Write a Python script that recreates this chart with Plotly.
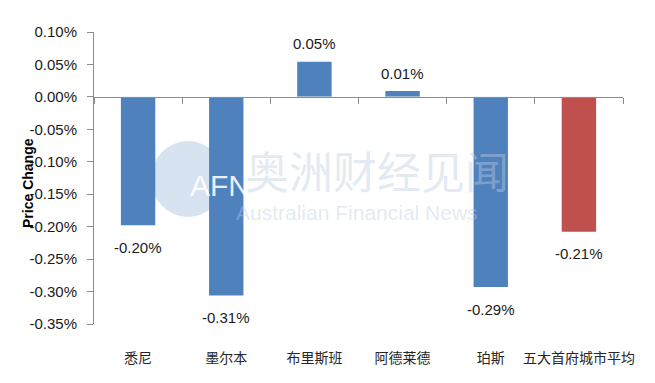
import plotly.graph_objects as go

categories = ["悉尼", "墨尔本", "布里斯班", "阿德莱德", "珀斯", "五大首府城市平均"]
values = [-0.198, -0.306, 0.054, 0.009, -0.293, -0.208]
labels = ["-0.20%", "-0.31%", "0.05%", "0.01%", "-0.29%", "-0.21%"]
colors = ["#4F81BD", "#4F81BD", "#4F81BD", "#4F81BD", "#4F81BD", "#C0504D"]
ytick_vals = [0.10, 0.05, 0.0, -0.05, -0.10, -0.15, -0.20, -0.25, -0.30, -0.35]
ytick_text = ["0.10%", "0.05%", "0.00%", "-0.05%", "-0.10%", "-0.15%", "-0.20%", "-0.25%", "-0.30%", "-0.35%"]

W, H = 655, 383
L, R, T, B = 94, 32, 32, 59
PW, PH = W - L - R, H - T - B
YMIN, YMAX = -0.35, 0.10

def px(x):
    return (x - L) / PW

def py(y):
    return (H - B - y) / PH

fig = go.Figure()
fig.add_trace(go.Bar(x=categories, y=values, marker=dict(color=colors, line=dict(width=0)),
                     hoverinfo="skip", showlegend=False))

ann = []
for c, v, t in zip(categories, values, labels):
    ann.append(dict(x=c, y=v, xref="x", yref="y", text=t, showarrow=False,
                    yanchor="middle", yshift=18 if v >= 0 else -22,
                    font=dict(family="Liberation Sans, Arial", size=15, color="#1a1a1a")))

# watermark
wm_color = "rgba(190,205,225,0.42)"
ann.append(dict(x=px(188), y=py(185), xref="paper", yref="paper", text="AFN", showarrow=False,
                font=dict(family="Liberation Sans, Arial", size=30, color="rgba(255,255,255,0.9)")))
ann.append(dict(x=px(243), y=py(170), xref="paper", yref="paper", text="奥洲财经见闻", showarrow=False,
                xanchor="left", font=dict(family="Noto Sans CJK SC", size=44, color=wm_color)))
ann.append(dict(x=px(234), y=py(213), xref="paper", yref="paper", text="Australian Financial News",
                showarrow=False, xanchor="left",
                font=dict(family="Liberation Sans, Arial", size=21, color=wm_color)))
# y title
ann.append(dict(x=px(18), y=py(183), xref="paper", yref="paper", text="<b>Price Change</b>",
                showarrow=False, textangle=-90,
                font=dict(family="Liberation Sans, Arial", size=14, color="#000000")))

zero_pos = (0 - YMIN) / (YMAX - YMIN)

fig.update_layout(
    width=W, height=H,
    margin=dict(l=L, r=R, t=T, b=B, pad=0, autoexpand=False),
    paper_bgcolor="white", plot_bgcolor="white",
    bargap=0.61,
    annotations=ann,
    shapes=[dict(type="circle", xref="paper", yref="paper", layer="below",
                 x0=px(151), x1=px(225), y0=py(141), y1=py(217),
                 fillcolor="rgba(205,220,237,0.8)", line=dict(width=0))],
    xaxis=dict(type="category", showline=False, ticks="", showgrid=False, zeroline=False,
               automargin=False,
               tickfont=dict(family="Noto Sans CJK SC", size=14, color="#262626"),
               ticklabelstandoff=24),
    xaxis2=dict(type="category", matches="x", overlaying="x", anchor="free", position=zero_pos,
                side="bottom", showline=True, linecolor="#8C8C8C", linewidth=1, automargin=False,
                ticks="outside", ticklen=6, tickcolor="#8C8C8C", tickson="boundaries",
                showticklabels=False, showgrid=False, zeroline=False),
    yaxis=dict(range=[YMIN, YMAX], tickvals=ytick_vals, ticktext=ytick_text, automargin=False,
               showline=True, linecolor="#8C8C8C", linewidth=1, ticks="outside", ticklen=6,
               tickcolor="#8C8C8C", showgrid=False, zeroline=False, ticklabelstandoff=7,
               tickfont=dict(family="Liberation Sans, Arial", size=15, color="#1a1a1a")),
)
fig.add_trace(go.Bar(x=categories, y=[0] * len(categories), xaxis="x2", yaxis="y",
                     marker=dict(color="rgba(0,0,0,0)"), hoverinfo="skip", showlegend=False))

fig.write_html("out.html", config={"displayModeBar": False},
               post_script="document.body.style.margin='0px';document.body.style.overflow='hidden';")
